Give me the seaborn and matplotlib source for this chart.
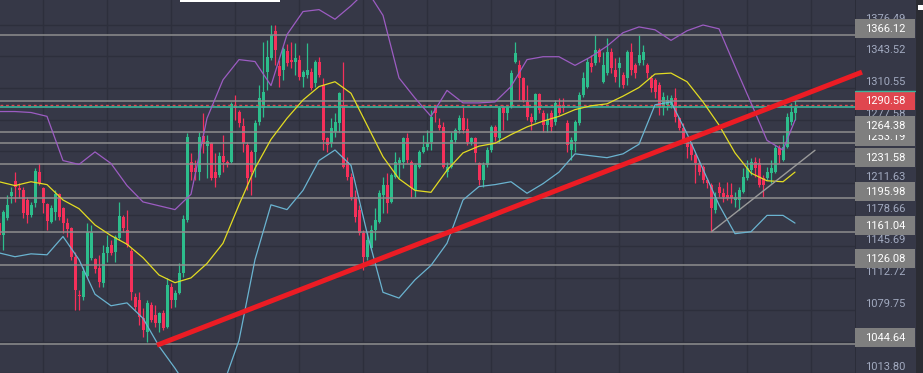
import matplotlib
matplotlib.use('Agg')
import matplotlib.pyplot as plt
import matplotlib.transforms as mtransforms
from matplotlib.patches import Rectangle
import seaborn as sns
import pandas as pd

# ----------------- theme -----------------
BG_COLOR = '#363847'
STRIP_COLOR = '#2b2c33'
GRID_COLOR = '#2d2f3c'
LEVEL_COLOR = '#8e8e8e'
UP_COLOR = '#2dbd8c'
DOWN_COLOR = '#f5305a'
TICK_COLOR = '#a2aac0'

sns.set_theme(style='dark', rc={'axes.facecolor': BG_COLOR, 'figure.facecolor': STRIP_COLOR})
plt.rcParams['font.family'] = ['Roboto', 'DejaVu Sans']

# ----------------- candles (price) -----------------
opens = [1170, 1158, 1175, 1198, 1214, 1206, 1204, 1194, 1178, 1191,
         1223, 1206, 1190, 1171, 1182, 1200, 1186, 1170, 1165, 1135,
         1095, 1093, 1115, 1134, 1133, 1123, 1108, 1139, 1147, 1140,
         1154, 1176, 1163, 1141, 1093, 1090, 1071, 1057, 1085, 1074,
         1066, 1076, 1062, 1104, 1090, 1097, 1118, 1173, 1234, 1227,
         1223, 1261, 1250, 1253, 1223, 1220, 1240, 1234, 1234, 1292,
         1286, 1271, 1251, 1244, 1244, 1275, 1290, 1327, 1342, 1370,
         1333, 1329, 1349, 1340, 1338, 1340, 1322, 1324, 1327, 1316,
         1338, 1314, 1258, 1253, 1265, 1274, 1293, 1234, 1218, 1197,
         1184, 1160, 1135, 1144, 1163, 1171, 1199, 1210, 1192, 1218,
         1232, 1234, 1258, 1234, 1204, 1228, 1244, 1249, 1254, 1291,
         1272, 1270, 1223, 1228, 1256, 1267, 1279, 1268, 1254, 1258,
         1232, 1215, 1230, 1246, 1270, 1258, 1291, 1284, 1291, 1338,
         1334, 1321, 1296, 1280, 1277, 1304, 1284, 1272, 1284, 1275,
         1293, 1293, 1274, 1246, 1255, 1274, 1303, 1312, 1336, 1336,
         1350, 1317, 1326, 1348, 1329, 1331, 1324, 1321, 1348, 1334,
         1336, 1340, 1334, 1321, 1319, 1314, 1291, 1293, 1293, 1300,
         1279, 1269, 1254, 1253, 1241, 1232, 1228, 1215, 1210, 1184,
         1208, 1201, 1199, 1199, 1194, 1194, 1202, 1217, 1225, 1234,
         1232, 1217, 1217, 1222, 1223, 1248, 1236, 1249, 1275, 1284]
highs = [1175, 1184, 1199, 1208, 1223, 1212, 1208, 1197, 1192, 1227,
         1232, 1208, 1191, 1189, 1204, 1201, 1187, 1175, 1166, 1140,
         1100, 1124, 1170, 1168, 1134, 1137, 1147, 1158, 1152, 1158,
         1192, 1178, 1184, 1144, 1097, 1098, 1082, 1090, 1088, 1085,
         1078, 1080, 1113, 1108, 1100, 1128, 1178, 1264, 1243, 1236,
         1265, 1284, 1262, 1254, 1243, 1244, 1262, 1236, 1296, 1303,
         1288, 1279, 1254, 1246, 1277, 1314, 1358, 1360, 1376, 1376,
         1340, 1353, 1356, 1358, 1357, 1345, 1329, 1357, 1331, 1340,
         1343, 1321, 1260, 1279, 1284, 1306, 1338, 1239, 1222, 1204,
         1189, 1163, 1161, 1168, 1186, 1204, 1218, 1222, 1222, 1244,
         1239, 1260, 1264, 1236, 1232, 1246, 1262, 1267, 1288, 1292,
         1279, 1275, 1234, 1265, 1269, 1282, 1291, 1279, 1260, 1260,
         1234, 1234, 1249, 1272, 1272, 1292, 1293, 1293, 1329, 1358,
         1340, 1322, 1314, 1284, 1305, 1305, 1288, 1284, 1288, 1298,
         1300, 1300, 1277, 1260, 1277, 1306, 1327, 1342, 1345, 1366,
         1352, 1348, 1362, 1352, 1342, 1343, 1327, 1350, 1357, 1336,
         1366, 1355, 1336, 1324, 1321, 1317, 1306, 1303, 1303, 1310,
         1280, 1274, 1256, 1254, 1243, 1236, 1230, 1217, 1212, 1202,
         1213, 1206, 1213, 1212, 1202, 1208, 1227, 1236, 1238, 1239,
         1238, 1220, 1228, 1236, 1251, 1251, 1262, 1284, 1295, 1298]
lows = [1152, 1142, 1173, 1191, 1192, 1196, 1175, 1170, 1176, 1187,
        1210, 1180, 1163, 1170, 1173, 1173, 1160, 1156, 1132, 1080,
        1080, 1090, 1114, 1132, 1118, 1104, 1104, 1130, 1137, 1130,
        1152, 1161, 1145, 1090, 1080, 1064, 1052, 1046, 1067, 1062,
        1057, 1059, 1061, 1082, 1083, 1096, 1114, 1171, 1215, 1215,
        1215, 1243, 1217, 1215, 1208, 1218, 1223, 1228, 1232, 1277,
        1270, 1244, 1204, 1199, 1218, 1272, 1280, 1308, 1340, 1334,
        1312, 1319, 1333, 1331, 1324, 1319, 1312, 1321, 1308, 1312,
        1322, 1246, 1244, 1249, 1260, 1265, 1227, 1215, 1194, 1171,
        1158, 1121, 1132, 1142, 1152, 1170, 1180, 1180, 1191, 1217,
        1217, 1227, 1232, 1196, 1197, 1227, 1243, 1246, 1246, 1275,
        1267, 1227, 1218, 1227, 1253, 1264, 1264, 1251, 1251, 1234,
        1210, 1208, 1228, 1244, 1255, 1253, 1267, 1277, 1290, 1336,
        1298, 1296, 1277, 1267, 1275, 1284, 1265, 1265, 1265, 1272,
        1282, 1286, 1244, 1236, 1244, 1272, 1301, 1310, 1327, 1334,
        1338, 1316, 1324, 1326, 1317, 1312, 1310, 1314, 1324, 1321,
        1334, 1334, 1321, 1306, 1300, 1282, 1282, 1288, 1290, 1275,
        1267, 1253, 1238, 1236, 1212, 1220, 1212, 1206, 1161, 1180,
        1197, 1192, 1194, 1191, 1187, 1184, 1201, 1215, 1220, 1218,
        1208, 1197, 1215, 1212, 1222, 1232, 1235, 1248, 1272, 1277]
closes = [1158, 1182, 1189, 1202, 1208, 1204, 1180, 1178, 1189, 1224,
          1212, 1191, 1172, 1186, 1200, 1176, 1170, 1164, 1135, 1100,
          1094, 1120, 1161, 1161, 1122, 1109, 1139, 1145, 1139, 1156,
          1177, 1165, 1147, 1098, 1083, 1072, 1059, 1087, 1069, 1066,
          1076, 1061, 1106, 1090, 1097, 1118, 1174, 1260, 1223, 1223,
          1260, 1252, 1255, 1217, 1217, 1240, 1234, 1231, 1294, 1290,
          1274, 1253, 1217, 1223, 1274, 1300, 1306, 1343, 1366, 1350,
          1323, 1351, 1336, 1338, 1342, 1322, 1327, 1329, 1310, 1338,
          1324, 1256, 1251, 1269, 1275, 1305, 1228, 1218, 1197, 1176,
          1160, 1135, 1152, 1163, 1173, 1201, 1210, 1191, 1220, 1234,
          1236, 1258, 1236, 1206, 1230, 1244, 1249, 1253, 1280, 1284,
          1269, 1228, 1228, 1256, 1267, 1279, 1267, 1254, 1258, 1243,
          1215, 1230, 1246, 1270, 1260, 1290, 1284, 1291, 1326, 1347,
          1321, 1298, 1280, 1275, 1304, 1288, 1272, 1277, 1270, 1295,
          1284, 1290, 1251, 1256, 1275, 1303, 1321, 1338, 1332, 1350,
          1343, 1334, 1348, 1331, 1322, 1336, 1314, 1348, 1329, 1326,
          1345, 1348, 1326, 1310, 1306, 1291, 1301, 1298, 1300, 1280,
          1269, 1256, 1249, 1241, 1232, 1223, 1215, 1212, 1186, 1197,
          1201, 1197, 1196, 1196, 1197, 1204, 1218, 1227, 1234, 1227,
          1210, 1210, 1223, 1227, 1248, 1241, 1249, 1280, 1286, 1290]

# ----------------- bollinger bands, read every 4th bar -----------------
band_idx = list(range(0, 197, 4)) + [199]
upper_band = [1286, 1286, 1285, 1281, 1235, 1231, 1244, 1232, 1209, 1192,
              1188, 1184, 1200, 1279, 1319, 1340, 1338, 1313, 1366, 1390,
              1392, 1382, 1396, 1412, 1386, 1321, 1300, 1281, 1308, 1295,
              1295, 1296, 1312, 1340, 1343, 1343, 1334, 1343, 1354, 1368,
              1374, 1371, 1360, 1370, 1376, 1372, 1333, 1295, 1256, 1246,
              1277]
middle_band = [1213, 1209, 1213, 1210, 1194, 1185, 1168, 1157, 1148, 1134,
               1116, 1108, 1113, 1128, 1149, 1189, 1227, 1257, 1279, 1298,
               1312, 1317, 1305, 1272, 1239, 1216, 1204, 1202, 1225, 1243,
               1250, 1253, 1262, 1270, 1276, 1281, 1288, 1292, 1294, 1302,
               1311, 1325, 1326, 1317, 1296, 1272, 1243, 1222, 1214, 1213,
               1223]
lower_band = [1139, 1135, 1138, 1137, 1156, 1132, 1096, 1084, 1087, 1071,
              1042, 1019, 994, 988, 1001, 1048, 1132, 1189, 1184, 1204,
              1235, 1246, 1230, 1160, 1098, 1092, 1111, 1126, 1149, 1194,
              1208, 1210, 1213, 1201, 1211, 1223, 1242, 1240, 1238, 1242,
              1252, 1293, 1296, 1263, 1226, 1189, 1159, 1161, 1178, 1178,
              1170]

# ----------------- levels and drawings -----------------
level_values = [1366.12, 1253.19, 1264.38, 1231.58, 1195.98, 1161.04, 1126.08, 1044.64]
extra_level = 1297.0
bid_level = 1293.3
last_price = 1290.58
tick_values = [1376.49, 1343.52, 1310.55, 1277.58, 1244.61, 1211.63,
               1178.66, 1145.69, 1112.72, 1079.75, 1046.78, 1013.80]
vgrid_idx = [11, 27, 43, 59, 75, 91, 107, 123, 139, 155, 171, 187, 203]
trend_x = [39.5, 215.75]
trend_y = [1043.0, 1327.0]
support_x = [178.25, 204.0]
support_y = [1161.5, 1245.7]

df = pd.DataFrame({'o': opens, 'h': highs, 'l': lows, 'c': closes})
df['idx'] = range(len(df))
df['col'] = [UP_COLOR if c >= o else DOWN_COLOR for o, c in zip(df.o, df.c)]
bands = pd.DataFrame({'idx': band_idx, 'upper': upper_band,
                      'middle': middle_band, 'lower': lower_band})

W, H = 923, 373
PX = 1.04  # price units per pixel
fig = plt.figure(figsize=(W / 100, H / 100), dpi=100)
ax = fig.add_axes([0, 0, 855 / W, 1])
axr = fig.add_axes([855 / W, 0, 61 / W, 1])
ax.set_zorder(2)
axr.set_zorder(1)

ylim = (1402 - H * PX, 1402)
ax.set_xlim(0.25, 214)
ax.set_ylim(*ylim)
axr.set_xlim(0, 1)
axr.set_ylim(*ylim)
for a in (ax, axr):
    a.set_facecolor(BG_COLOR)
    a.set_xticks([])
    a.set_yticks([])
    for s in a.spines.values():
        s.set_visible(False)
axr.spines['left'].set_visible(True)
axr.spines['left'].set_color('#2a2c37')

# grid
for g in vgrid_idx:
    ax.axvline(g, color=GRID_COLOR, lw=1, zorder=0.5)
for t in tick_values:
    ax.axhline(t, color=GRID_COLOR, lw=1, zorder=0.5)

# candles
ax.vlines(df.idx, df.l, df.h, colors=df.col, lw=0.9, zorder=2)
body_h = (df.c - df.o).abs().clip(lower=1.0)
ax.bar(df.idx, body_h, bottom=df[['o', 'c']].min(axis=1), width=0.75,
       color=df.col, linewidth=0, zorder=2.1)

# horizontal levels
for v in level_values + [extra_level]:
    ax.axhline(v, color=LEVEL_COLOR, lw=1.1, zorder=3)
ax.axhline(bid_level, color='#e0474f', lw=1, ls=(0, (2, 2)), zorder=3)
ax.axhline(last_price, color='#3bb39a', lw=1.2, zorder=3)

# bands
sns.lineplot(data=bands, x='idx', y='upper', ax=ax, color='#9c5cc2', lw=0.9, zorder=4)
sns.lineplot(data=bands, x='idx', y='middle', ax=ax, color='#e3dc22', lw=0.9, zorder=4)
sns.lineplot(data=bands, x='idx', y='lower', ax=ax, color='#6ab3d0', lw=0.9, zorder=4)
ax.set_xlabel('')
ax.set_ylabel('')

# trend lines
ax.plot(support_x, support_y, color='#9a9a9a', lw=1, zorder=5)
ax.plot(trend_x, trend_y, color='#ec1c24', lw=3.6, solid_capstyle='butt',
        clip_on=False, zorder=6)

# price scale
ytr = axr.get_yaxis_transform()
lbl_tr = mtransforms.offset_copy(ytr, fig=fig, y=6, units='dots')
box_spans = [(v - 3 * PX, v + 16 * PX) for v in level_values + [last_price]]


def covered(p):
    return any(b0 - 1.5 * PX <= p <= b1 + 1.5 * PX for b0, b1 in box_spans)


def hidden(t):
    # tick label (about 9 px tall, centred 6 px above the tick) lying under the boxes
    return all(covered(t + k * PX) for k in (2, 4, 6, 8, 10))


for t in tick_values:
    if hidden(t):
        continue
    axr.text(10 / 61, t, f'{t:.2f}', transform=lbl_tr, color=TICK_COLOR,
             fontsize=8, va='center', ha='left', zorder=2)

z = 3
for v in level_values:
    axr.add_patch(Rectangle((0, v - 3 * PX), 60 / 61, 19 * PX, transform=ytr,
                            facecolor='#7f7f7f', edgecolor='none', zorder=z))
    axr.text(10 / 61, v, f'{v:.2f}', transform=lbl_tr, color='white',
             fontsize=8, va='center', ha='left', zorder=z + 0.1)
    z += 0.2
axr.add_patch(Rectangle((0, last_price - 3 * PX), 60 / 61, 19 * PX, transform=ytr,
                        facecolor='#e0464f', edgecolor='none', zorder=z))
axr.axhline(last_price + 16 * PX, xmax=60 / 61, color='#3bb39a', lw=1, zorder=z)
axr.text(10 / 61, last_price, f'{last_price:.2f}', transform=lbl_tr, color='white',
         fontsize=8, va='center', ha='left', zorder=z + 0.1)

# small UI bits
fig.patches.append(Rectangle((180 / W, 1 - 2 / H), 100 / W, 2 / H, transform=fig.transFigure,
                             facecolor='white', edgecolor='none', zorder=10))
fig.patches.append(Rectangle((918 / W, 1 - 10 / H), 5 / W, 5 / H, transform=fig.transFigure,
                             facecolor='white', edgecolor='none', zorder=10))

fig.savefig('out.png', dpi=100, facecolor=STRIP_COLOR)
